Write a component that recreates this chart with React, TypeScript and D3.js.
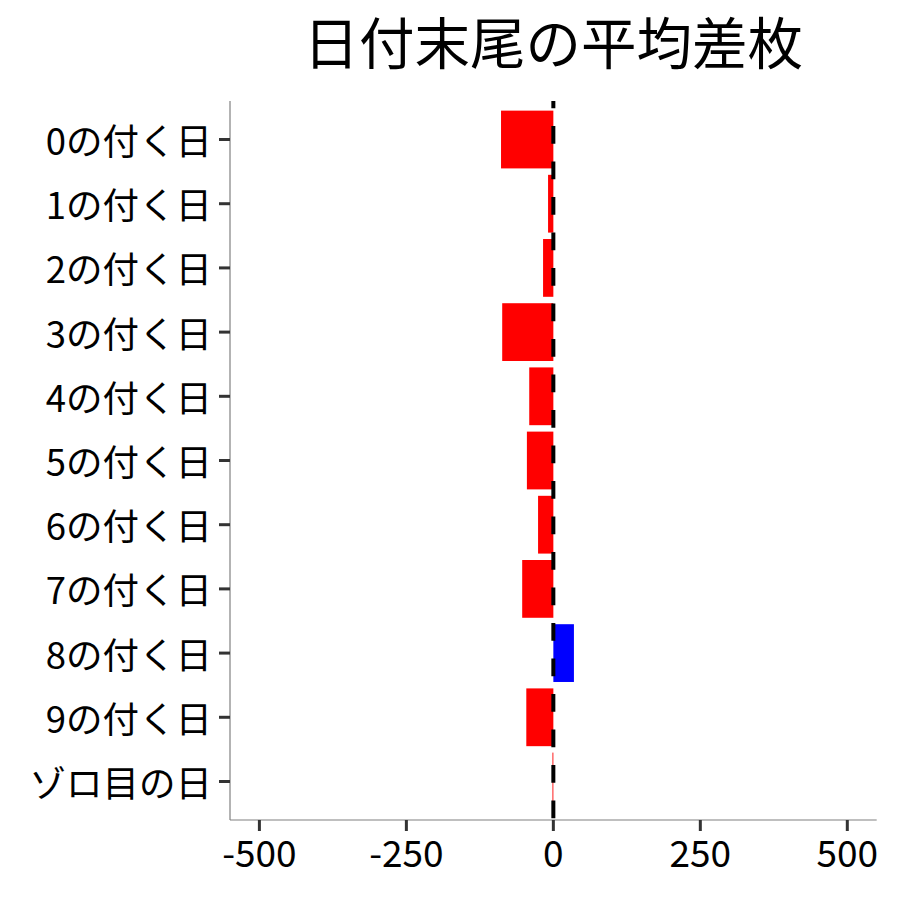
import * as d3 from "d3";

// categories top to bottom
const categories = [
  "0の付く日",
  "1の付く日",
  "2の付く日",
  "3の付く日",
  "4の付く日",
  "5の付く日",
  "6の付く日",
  "7の付く日",
  "8の付く日",
  "9の付く日",
  "ゾロ目の日",
];

// average difference per category
const values = [-89, -9, -17.5, -87, -41, -45, -26, -53, 35, -46, -1.5];

const xTicks = [-500, -250, 0, 250, 500];

const title = "日付末尾の平均差枚";

const width = 900;
const height = 900;
const margin = { top: 101, right: 23.3, bottom: 80, left: 230 };
const font = "'Noto Sans CJK JP', 'Noto Sans', sans-serif";

export default function App() {
  const x = d3
    .scaleLinear()
    .domain([-550, 550])
    .range([margin.left, width - margin.right]);
  const y = d3
    .scaleBand<string>()
    .domain(categories)
    .range([margin.top, height - margin.bottom])
    .paddingInner(0.1)
    .paddingOuter(0.15);

  const [x0, x1] = x.range();
  const [y0, y1] = y.range();

  return (
    <svg
      width={width}
      height={height}
      style={{ position: "absolute", left: 0, top: 0, background: "#fff" }}
      fontFamily={font}
    >
      <text x={(x0 + x1) / 2} y={64} textAnchor="middle" fontSize={55.5} fill="#000">
        {title}
      </text>

      {/* bars */}
      {values.map((v, i) => (
        <rect
          key={i}
          x={x(Math.min(0, v))}
          y={y(categories[i])}
          width={Math.abs(x(v) - x(0))}
          height={y.bandwidth()}
          fill={v >= 0 ? "#0000FF" : "#FF0000"}
        />
      ))}

      {/* zero line */}
      <line
        x1={x(0)}
        x2={x(0)}
        y1={y0}
        y2={y1}
        stroke="#000"
        strokeWidth={4}
        strokeDasharray="17.7 17.8"
        strokeDashoffset={10.4}
      />

      {/* axes */}
      <line x1={x0} x2={x0} y1={y0} y2={y1} stroke="#808080" strokeWidth={1.2} />
      <line x1={x0} x2={x1} y1={y1} y2={y1} stroke="#808080" strokeWidth={1.2} />

      {categories.map((c) => {
        const cy = y(c)! + y.bandwidth() / 2;
        return (
          <g key={c}>
            <line x1={x0 - 11} x2={x0} y1={cy} y2={cy} stroke="#333" strokeWidth={3} />
            <text
              x={x0 - 18}
              y={cy}
              textAnchor="end"
              dominantBaseline="central"
              fontSize={36.5}
              fill="#000"
            >
              {c}
            </text>
          </g>
        );
      })}

      {xTicks.map((t) => (
        <g key={t}>
          <line x1={x(t)} x2={x(t)} y1={y1} y2={y1 + 11} stroke="#333" strokeWidth={3} />
          <text
            x={x(t)}
            y={y1 + 47}
            textAnchor="middle"
            fontSize={37}
            fill="#000"
          >
            {t}
          </text>
        </g>
      ))}
    </svg>
  );
}
